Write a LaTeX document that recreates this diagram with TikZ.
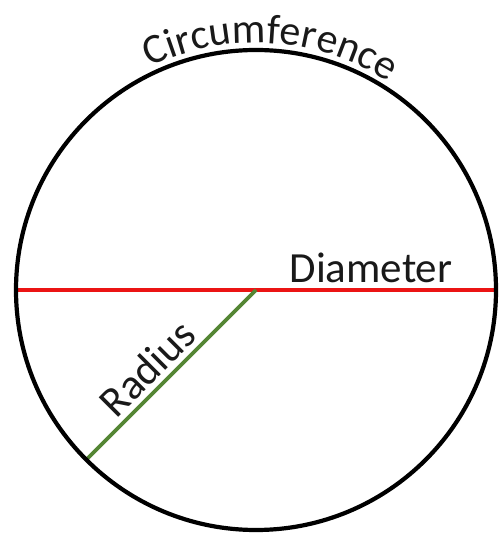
\documentclass[tikz,border=0pt]{standalone}
\usepackage{fontspec}
\setmainfont{Carlito}
\usetikzlibrary{decorations.text,calc}
\definecolor{radgreen}{RGB}{84,134,52}
\definecolor{diamred}{RGB}{235,20,20}
\tikzset{
  circline/.style={line width=4.2pt, black},
  diamline/.style={line width=4.4pt, diamred},
  radline/.style={line width=3.8pt, radgreen},
  lbl/.style={font=\fontsize{43}{50}\selectfont, text=black!90, inner sep=0pt}
}
\begin{document}
\begin{tikzpicture}[x=1pt,y=1pt]
\useasboundingbox (0,0) rectangle (500,533);
\coordinate (c) at (256,243);
\coordinate (dl) at (16,243);
\coordinate (dr) at (498,243);
\coordinate (re) at ($(c)+(225:240)$);
\draw[diamline] (dl) -- (dr);
\draw[radline] (re) -- node[lbl, sloped, above=5pt, pos=0.45] (radlbl) {Radius} (c);
\draw[circline] (c) circle[radius=240];
\node[lbl, anchor=base] (diamlbl) at (371,250) {Diameter};
\path[decorate, decoration={text along path, text align=center,
  text={|\fontsize{42}{50}\selectfont\color{black!90}|Circumference}}]
  ($(c)+(119:247)$) arc[start angle=119, end angle=54, radius=247];
\end{tikzpicture}
\end{document}
